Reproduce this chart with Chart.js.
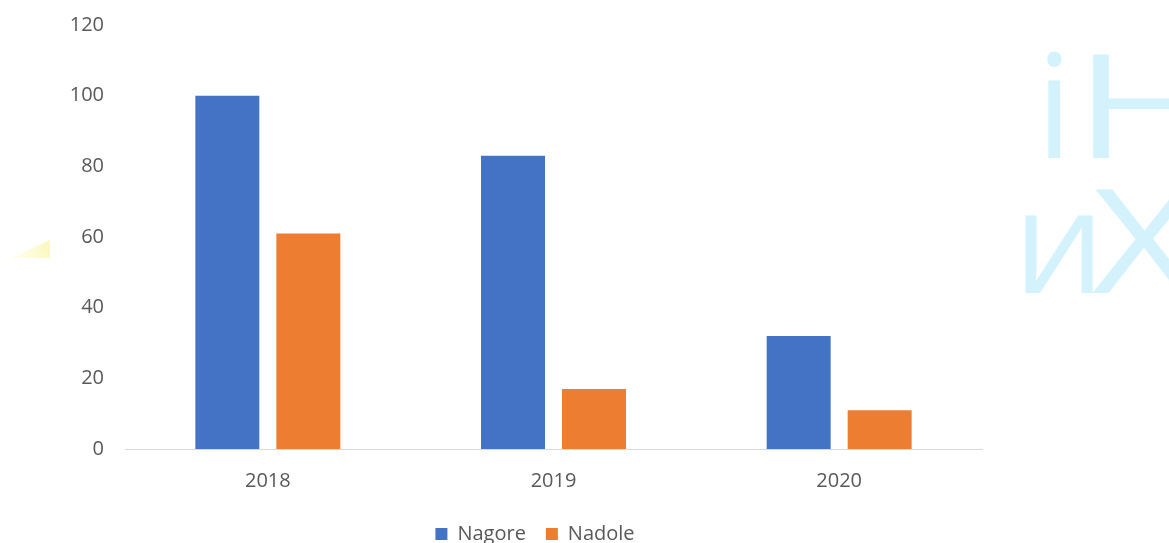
<!DOCTYPE html>
<html>
<head>
<meta charset="utf-8">
<script src="https://cdn.jsdelivr.net/npm/chart.js@4"></script>
<style>
  html, body { margin: 0; padding: 0; background: #fff; overflow: hidden; }
  #wrap { position: relative; width: 1169px; height: 554px; }
</style>
</head>
<body>
<div id="wrap"><canvas id="chart"></canvas></div>
<script>
// Kategorije in vrednosti
const years = ["2018", "2019", "2020"];
const nagore = [100, 83, 32];
const nadole = [61, 17, 11];
const yTicks = [0, 20, 40, 60, 80, 100, 120];

const textColor = "#595959";
const font = { family: "'Open Sans', 'Noto Sans', sans-serif", size: 20 };

// črka z levim robom na x, po potrebi raztegnjena v širino
function glyph(ctx, ch, x, baseline, sx) {
    const m = ctx.measureText(ch);
    ctx.save();
    ctx.translate(x + sx * m.actualBoundingBoxLeft, baseline);
    ctx.scale(sx, 1);
    ctx.fillText(ch, 0, 0);
    ctx.restore();
}

// Ozadje: bledo modri napis desno in rumena lisa levo
const backdrop = {
    id: "backdrop",
    beforeDraw(chart) {
        const ctx = chart.ctx;
        ctx.save();
        ctx.fillStyle = "#fff";
        ctx.fillRect(0, 0, chart.width, chart.height);

        ctx.beginPath();
        ctx.rect(1013, 0, chart.width - 1013, chart.height);
        ctx.clip();
        ctx.fillStyle = "rgb(212, 242, 252)";
        ctx.font = "145px 'Open Sans', sans-serif";
        ctx.textBaseline = "alphabetic";
        ctx.textAlign = "left";
        glyph(ctx, "i", 1047, 158, 1);
        glyph(ctx, "H", 1093, 158, 1.3);
        glyph(ctx, "и", 1025, 293, 1);
        glyph(ctx, "Х", 1092, 293, 1.25);
        ctx.restore();

        ctx.save();
        const g = ctx.createLinearGradient(0, 250, 50, 242);
        g.addColorStop(0, "rgba(255,255,220,0.2)");
        g.addColorStop(1, "rgba(250,245,170,0.8)");
        ctx.fillStyle = g;
        ctx.beginPath();
        ctx.moveTo(10, 258);
        ctx.lineTo(50, 240);
        ctx.lineTo(50, 258);
        ctx.closePath();
        ctx.fill();
        ctx.restore();
    }
};

// legenda je zamaknjena proti sredini risalne ploskve
const legendShift = {
    id: "legendShift",
    afterLayout(chart) {
        const lg = chart.legend;
        if (!lg) return;
        lg.left += 44;
        lg.right += 44;
        if (lg.legendHitBoxes) lg.legendHitBoxes.forEach(b => { b.left += 44; });
    }
};

new Chart(document.getElementById("chart"), {
    type: "bar",
    plugins: [backdrop, legendShift],
    data: {
        labels: years,
        datasets: [
            { label: "Nagore", data: nagore, backgroundColor: "#4472c4" },
            { label: "Nadole", data: nadole, backgroundColor: "#ed7d31" },
        ],
    },
    options: {
        responsive: true,
        maintainAspectRatio: false,
        animation: false,
        categoryPercentage: 0.567,
        barPercentage: 0.79,
        layout: { padding: { top: 25, right: 187, left: 0, bottom: 0 } },
        scales: {
            x: {
                grid: { display: false, drawTicks: false },
                border: { display: true, color: "#d9d9d9", width: 1 },
                ticks: { color: textColor, font: font, padding: 20 },
                afterFit: (s) => { s.height = 55; },
            },
            y: {
                min: 0,
                max: 120,
                afterBuildTicks: (s) => { s.ticks = yTicks.map(v => ({ value: v })); },
                grid: { display: false, drawTicks: false },
                border: { display: false },
                ticks: { color: textColor, font: font, padding: 21 },
                afterFit: (s) => {
                    s.width = 125;
                    s.paddingTop = 0;
                    s.paddingBottom = 0;
                },
            },
        },
        plugins: {
            tooltip: { enabled: false },
            legend: {
                position: "bottom",
                labels: {
                    color: textColor,
                    font: font,
                    boxWidth: 12,
                    boxHeight: 12,
                    padding: 20,
                },
            },
        },
    },
});
</script>
</body>
</html>
